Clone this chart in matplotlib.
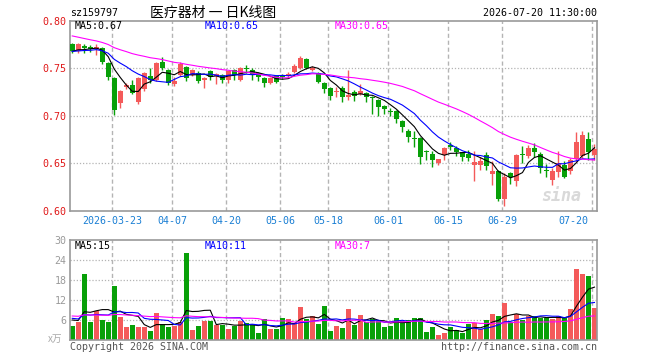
import matplotlib
matplotlib.use("Agg")
import matplotlib.pyplot as plt
import numpy as np
import pandas as pd

plt.rcParams['font.family'] = ['DejaVu Sans Mono', 'Noto Sans CJK SC']

code = "sz159797"
title = "医疗器材 一 日K线图"
stamp = "2026-07-20 11:30:00"

date_labels = ["2026-03-23", "04-07", "04-20", "05-06", "05-18", "06-01", "06-15", "06-29", "07-20"]
date_idx = [7, 17, 26, 35, 43, 53, 63, 72, 87]

opens = [0.776, 0.768, 0.773, 0.772, 0.770, 0.771, 0.756, 0.740, 0.713, 0.730,
         0.732, 0.715, 0.728, 0.742, 0.738, 0.757, 0.748, 0.733, 0.743, 0.751,
         0.743, 0.745, 0.738, 0.747, 0.742, 0.743, 0.738, 0.748, 0.738, 0.7505,
         0.748, 0.745, 0.740, 0.735, 0.742, 0.742, 0.7415, 0.7465, 0.7505, 0.760,
         0.748, 0.7455, 0.735, 0.729, 0.7255, 0.729, 0.720, 0.7255, 0.723, 0.724,
         0.7195, 0.717, 0.7105, 0.705, 0.7055, 0.695, 0.6845, 0.6765, 0.6765, 0.663,
         0.660, 0.650, 0.659, 0.6695, 0.666, 0.662, 0.660, 0.6485, 0.6485, 0.659,
         0.639, 0.6425, 0.6125, 0.6395, 0.6315, 0.6595, 0.658, 0.666, 0.660, 0.6435,
         0.6325, 0.641, 0.6485, 0.642, 0.6545, 0.6575, 0.6755, 0.659]
highs = [0.777, 0.777, 0.776, 0.774, 0.775, 0.772, 0.757, 0.741, 0.727, 0.734,
         0.738, 0.741, 0.746, 0.750, 0.757, 0.762, 0.749, 0.741, 0.757, 0.752,
         0.749, 0.747, 0.741, 0.748, 0.745, 0.744, 0.747, 0.749, 0.751, 0.753,
         0.750, 0.746, 0.741, 0.741, 0.743, 0.7435, 0.746, 0.754, 0.763, 0.761,
         0.7525, 0.7465, 0.736, 0.730, 0.7305, 0.731, 0.748, 0.727, 0.733, 0.725,
         0.7205, 0.718, 0.711, 0.7085, 0.706, 0.696, 0.686, 0.6845, 0.678, 0.664,
         0.663, 0.655, 0.667, 0.672, 0.668, 0.6625, 0.664, 0.663, 0.6565, 0.6615,
         0.6525, 0.643, 0.640, 0.641, 0.6595, 0.668, 0.669, 0.671, 0.6615, 0.6495,
         0.6455, 0.663, 0.653, 0.656, 0.683, 0.684, 0.683, 0.6705]
lows = [0.766, 0.766, 0.766, 0.767, 0.764, 0.755, 0.738, 0.701, 0.708, 0.728,
        0.723, 0.712, 0.726, 0.734, 0.737, 0.748, 0.732, 0.731, 0.742, 0.737,
        0.742, 0.734, 0.729, 0.738, 0.733, 0.734, 0.734, 0.738, 0.737, 0.745,
        0.738, 0.737, 0.730, 0.733, 0.734, 0.739, 0.740, 0.745, 0.749, 0.749,
        0.7475, 0.734, 0.7245, 0.717, 0.720, 0.715, 0.717, 0.716, 0.722, 0.715,
        0.7015, 0.700, 0.702, 0.700, 0.692, 0.683, 0.672, 0.667, 0.649, 0.6535,
        0.646, 0.648, 0.6535, 0.664, 0.6575, 0.653, 0.6525, 0.632, 0.643, 0.643,
        0.6275, 0.611, 0.605, 0.628, 0.626, 0.6505, 0.6555, 0.657, 0.6395, 0.636,
        0.6275, 0.636, 0.635, 0.6385, 0.651, 0.656, 0.6535, 0.6535]
closes = [0.768, 0.775, 0.771, 0.770, 0.772, 0.757, 0.741, 0.706, 0.726, 0.732,
          0.724, 0.740, 0.745, 0.738, 0.756, 0.750, 0.735, 0.737, 0.755, 0.740,
          0.748, 0.737, 0.740, 0.741, 0.744, 0.738, 0.747, 0.743, 0.750, 0.7495,
          0.743, 0.741, 0.735, 0.740, 0.736, 0.7405, 0.744, 0.752, 0.7605, 0.7505,
          0.7505, 0.736, 0.728, 0.721, 0.7265, 0.720, 0.722, 0.721, 0.7265, 0.720,
          0.7185, 0.709, 0.707, 0.704, 0.6965, 0.6885, 0.678, 0.676, 0.657, 0.662,
          0.6535, 0.6545, 0.666, 0.667, 0.6625, 0.657, 0.6555, 0.652, 0.653, 0.6475,
          0.6425, 0.6125, 0.636, 0.6358, 0.659, 0.6585, 0.666, 0.662, 0.645, 0.642,
          0.642, 0.650, 0.636, 0.6535, 0.6725, 0.680, 0.6615, 0.665]
volumes = [4.2, 5.5, 19.9, 5.5, 8.7, 6.0, 5.5, 16.2, 6.9, 3.9,
           4.5, 3.9, 3.9, 2.7, 8.1, 4.5, 3.9, 4.3, 5.4, 26.1,
           3.0, 4.2, 5.7, 5.7, 4.5, 4.5, 3.3, 4.3, 5.7, 5.0,
           4.5, 2.1, 6.3, 3.3, 3.3, 6.6, 6.3, 5.0, 9.9, 6.3,
           7.2, 4.8, 10.2, 2.7, 4.2, 3.6, 9.3, 4.5, 7.5, 5.4,
           6.3, 5.7, 3.9, 4.2, 6.6, 5.7, 6.0, 6.6, 6.6, 2.4,
           3.9, 1.5, 2.1, 3.9, 3.0, 2.1, 4.8, 5.1, 3.3, 6.0,
           7.8, 7.2, 11.1, 5.4, 7.8, 6.0, 7.2, 7.2, 6.6, 6.6,
           6.3, 7.2, 6.6, 9.3, 21.3, 19.9, 19.2, 9.6]

# sessions before the visible window, estimated from where the MA lines start
prior_closes = [0.815, 0.812, 0.810, 0.808, 0.806, 0.806, 0.805,
                0.792, 0.790, 0.788, 0.786, 0.784, 0.782,
                0.783, 0.781, 0.780, 0.780, 0.779, 0.778, 0.778,
                0.770, 0.766, 0.768, 0.765, 0.769, 0.767, 0.770, 0.766, 0.768]
prior_volumes = [8.2, 7.1, 6.8, 9.0, 7.4, 6.5, 8.8, 7.2, 7.9, 6.9,
                 7.6, 8.1, 7.0, 6.7, 8.4, 7.3, 7.8, 6.9, 7.7, 7.7,
                 7.4, 6.6, 7.2, 6.8, 7.0, 6.2, 6.8, 6.4, 6.4]

RED = '#f45a5a'
GREEN = '#08a008'
GRID = '#b4b4b4'
FRAME = '#999999'
MA_COLORS = ['black', '#0000ff', '#ff00ff']

o = np.array(opens)
h = np.array(highs)
l = np.array(lows)
c = np.array(closes)
v = np.array(volumes)
x = np.arange(len(c))
n_prior = len(prior_closes)

cs = pd.Series(prior_closes + closes)
vs = pd.Series(prior_volumes + volumes)
ma_p = [cs.rolling(k).mean().to_numpy()[n_prior:] for k in (5, 10, 30)]
ma_v = [vs.rolling(k).mean().to_numpy()[n_prior:] for k in (5, 10, 30)]

up = c >= o
colors = np.where(up, RED, GREEN)


def fpos(px, py):
    return px / 660, 1 - py / 360


fig = plt.figure(figsize=(6.6, 3.6), dpi=100)
ax = fig.add_axes([70 / 660, 1 - 211 / 360, 527 / 660, 190.3 / 360])
axv = fig.add_axes([70 / 660, 1 - 340 / 360, 527 / 660, 100 / 360])

xlim = (-0.37, 87.42)

for a in (ax, axv):
    a.set_xlim(*xlim)
    for s in a.spines.values():
        s.set_color(FRAME)
        s.set_linewidth(1.2)
    a.tick_params(length=0, pad=2.5, labelsize=7.2)
    a.set_xticks([])
    for i in date_idx:
        a.axvline(i - 0.35, color=GRID, lw=1.0, ls=(0, (3, 2)), zorder=0)

# price panel
ax.set_ylim(0.60, 0.80)
ax.set_yticks([0.60, 0.65, 0.70, 0.75, 0.80])
ax.set_yticklabels([f"{t:.2f}" for t in [0.60, 0.65, 0.70, 0.75, 0.80]], color='#e01818')
for yv in [0.65, 0.70, 0.75]:
    ax.axhline(yv, color=GRID, lw=0.9, ls=(0, (1, 1.5)), zorder=0)

ax.vlines(x, l, h, colors=colors, lw=1.0, zorder=2)
ax.bar(x, np.maximum(np.abs(c - o), 0.0007), bottom=np.minimum(o, c), width=0.82,
       color=colors, linewidth=0, zorder=3)
for m, col in zip(ma_p, MA_COLORS):
    ax.plot(x, m, color=col, lw=0.8, zorder=4)

trans = ax.get_xaxis_transform()
for lab, i in zip(date_labels, date_idx):
    if i == date_idx[-1]:
        ax.text(xlim[1] - 1.4, -0.053, lab, transform=trans, ha='right', va='center',
                color='#1a7fd4', fontsize=7.2)
    else:
        ax.text(i - 0.35, -0.053, lab, transform=trans, ha='center', va='center',
                color='#1a7fd4', fontsize=7.2)

ax.text(0.97, 0.08, "sina", transform=ax.transAxes, ha='right', va='center',
        fontsize=12, fontweight='bold', style='italic', color='#d9d9d9', zorder=1)

# volume panel
axv.set_ylim(0, 30)
axv.set_yticks([6, 12, 18, 24, 30])
axv.set_yticklabels(["6", "12", "18", "24", "30"], color='#9a9a9a')
for yv in [6, 12, 18, 24]:
    axv.axhline(yv, color=GRID, lw=0.9, ls=(0, (1, 1.5)), zorder=0)
axv.bar(x, v, width=0.82, color=colors, linewidth=0, zorder=2)
for m, col in zip(ma_v, MA_COLORS):
    axv.plot(x, m, color=col, lw=0.8, zorder=3)

# header and labels
fig.text(*fpos(70, 12.5), code, fontsize=7.2, va='center', ha='left')
fig.text(*fpos(150, 12.5), title, fontsize=10, va='center', ha='left',
         family=['Noto Sans CJK SC', 'DejaVu Sans'])
fig.text(*fpos(597, 12.5), stamp, fontsize=7.2, va='center', ha='right')

names = ["MA5", "MA10", "MA30"]
for k, (m, col, px) in enumerate(zip(ma_p, MA_COLORS, [75, 205, 335])):
    fig.text(*fpos(px, 26), f"{names[k]}:{m[-1]:.2f}", color=col, fontsize=7.2, va='center')
for k, (m, col, px) in enumerate(zip(ma_v, MA_COLORS, [75, 205, 335])):
    fig.text(*fpos(px, 246), f"{names[k]}:{int(m[-1])}", color=col, fontsize=7.2, va='center')

fig.text(*fpos(48, 339), "x万", fontsize=7, color='#aaaaaa', va='center', ha='left',
         family=['Noto Sans CJK SC', 'DejaVu Sans'])
fig.text(*fpos(70, 347), "Copyright 2026 SINA.COM", fontsize=7.2, color='#555555', va='center')
fig.text(*fpos(597, 347), "http://finance.sina.com.cn", fontsize=7.2, color='#555555',
         va='center', ha='right')

fig.savefig("out.png", dpi=100)
